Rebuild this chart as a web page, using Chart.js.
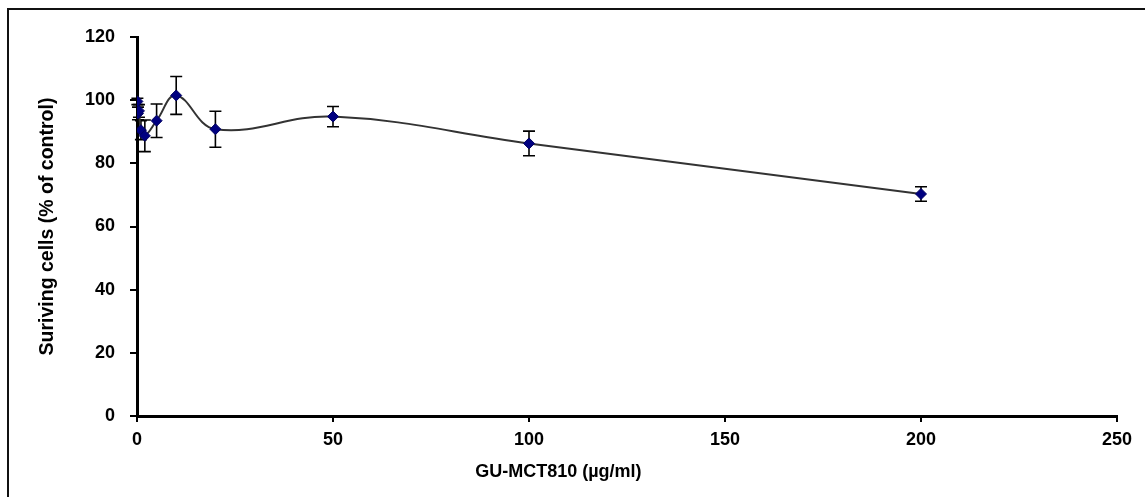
<!DOCTYPE html>
<html>
<head>
<meta charset="utf-8">
<script src="https://cdn.jsdelivr.net/npm/chart.js@4/dist/chart.umd.min.js"></script>
<style>
  html, body { margin: 0; padding: 0; background: #fff; overflow: hidden; }
  #wrap { position: relative; width: 1145px; height: 497px; }
  #frame { position: absolute; left: 7px; top: 8px; width: 3000px; height: 3000px;
           border-left: 2px solid #111; border-top: 2px solid #111; pointer-events: none; }
  canvas { position: absolute; left: 0; top: 0; }
</style>
</head>
<body>
<div id="wrap">
  <canvas id="c" width="1145" height="497"></canvas>
  <div id="frame"></div>
</div>
<script>
// Data
const concentrations = [0.1, 0.25, 0.5, 1, 2, 5, 10, 20, 50, 100, 200];
const survival       = [99.6, 95.8, 96.6, 90.5, 88.7, 93.5, 101.5, 90.8, 94.8, 86.3, 70.3];
const errors         = [1.0, 2.0, 2.0, 3.0, 5.0, 5.3, 6.0, 5.7, 3.2, 3.9, 2.3];
const xTickValues    = [0, 50, 100, 150, 200, 250];
const yTickValues    = [0, 20, 40, 60, 80, 100, 120];
const xTitle = 'GU-MCT810 (µg/ml)';
const yTitle = 'Suriving cells (% of control)';

const points = concentrations.map((x, i) => ({ x: x, y: survival[i] }));

const errorBarPlugin = {
  id: 'errorBars',
  beforeDatasetsDraw(chart) {
    const ctx = chart.ctx;
    const xs = chart.scales.x, ys = chart.scales.y;
    ctx.save();
    ctx.strokeStyle = '#000';
    ctx.lineWidth = 1.6;
    const cap = 6;
    concentrations.forEach((c, i) => {
      const px = xs.getPixelForValue(c);
      const top = ys.getPixelForValue(survival[i] + errors[i]);
      const bot = ys.getPixelForValue(survival[i] - errors[i]);
      ctx.beginPath();
      ctx.moveTo(px, top); ctx.lineTo(px, bot);
      ctx.moveTo(px - cap, top); ctx.lineTo(px + cap, top);
      ctx.moveTo(px - cap, bot); ctx.lineTo(px + cap, bot);
      ctx.stroke();
    });
    ctx.restore();
  }
};

const xTitlePlugin = {
  id: 'xTitle',
  afterDraw(chart) {
    const ctx = chart.ctx;
    const a = chart.chartArea;
    ctx.save();
    ctx.font = 'bold 18px "Liberation Sans", Arial, sans-serif';
    ctx.fillStyle = '#000';
    ctx.textAlign = 'center';
    ctx.textBaseline = 'middle';
    ctx.fillText(xTitle, a.left + 0.43 * (a.right - a.left), 472);
    ctx.restore();
  }
};

const tickFont = { family: '"Liberation Sans", Arial, sans-serif', size: 18, weight: 'bold' };

new Chart(document.getElementById('c'), {
  type: 'scatter',
  data: {
    datasets: [{
      data: points,
      showLine: true,
      tension: 0.4,
      borderColor: '#333333',
      borderWidth: 2,
      pointStyle: 'rectRot',
      pointRadius: 5.5,
      pointBackgroundColor: '#000080',
      pointBorderColor: '#000060',
      pointBorderWidth: 1
    }]
  },
  options: {
    responsive: false,
    animation: false,
    devicePixelRatio: 1,
    layout: { padding: { top: 37, right: 28, left: 0, bottom: 0 } },
    plugins: { legend: { display: false }, tooltip: { enabled: false } },
    scales: {
      x: {
        type: 'linear',
        min: 0, max: 250,
        afterBuildTicks: s => { s.ticks = xTickValues.map(v => ({ value: v })); },
        afterFit: s => { s.height = 81; },
        border: { display: true, color: '#000', width: 3 },
        grid: { display: true, drawOnChartArea: false, drawTicks: true, tickLength: 6, color: '#000', lineWidth: 2 },
        ticks: { color: '#000', font: tickFont, padding: 7, maxRotation: 0 }
      },
      y: {
        type: 'linear',
        min: 0, max: 120,
        afterBuildTicks: s => { s.ticks = yTickValues.map(v => ({ value: v })); },
        afterFit: s => { s.width = 137; },
        border: { display: true, color: '#000', width: 3 },
        grid: { display: true, drawOnChartArea: false, drawTicks: true, tickLength: 7, color: '#000', lineWidth: 2 },
        ticks: { color: '#000', font: tickFont, padding: 15 },
        title: {
          display: true,
          text: yTitle,
          color: '#000',
          font: { family: '"Liberation Sans", Arial, sans-serif', size: 19.5, weight: 'bold' },
          padding: { top: 36, bottom: 0 }
        }
      }
    }
  },
  plugins: [errorBarPlugin, xTitlePlugin]
});
</script>
</body>
</html>
